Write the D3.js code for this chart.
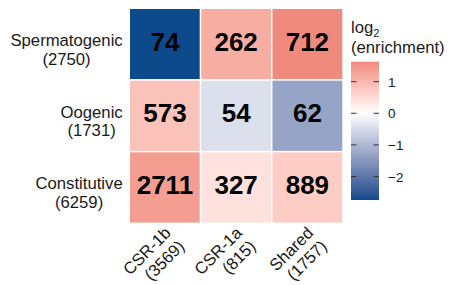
<!DOCTYPE html>
<html>
<head>
<meta charset="utf-8">
<script src="https://cdn.jsdelivr.net/npm/d3@7"></script>
<style>
html,body{margin:0;padding:0;background:#fff;}
text{font-family:"Liberation Sans",Arial,sans-serif;}
</style>
</head>
<body>
<svg id="chart" width="451" height="285"></svg>
<script>
// Data
const rowNames = ["Spermatogenic", "Oogenic", "Constitutive"];
const rowTotals = ["(2750)", "(1731)", "(6259)"];
const colNames = ["CSR-1b", "CSR-1a", "Shared"];
const colTotals = ["(3569)", "(815)", "(1757)"];
const counts = [
  [74, 262, 712],
  [573, 54, 62],
  [2711, 327, 889]
];
const log2Enrichment = [
  [-2.74, 1.15, 1.63],
  [0.85, -0.43, -1.3],
  [1.35, 0.4, 0.7]
];
const legendTicks = [1, 0, -1, -2];

const svg = d3.select("#chart");
const x = d3.scaleBand().domain(colNames).range([129.3, 343]);
const y = d3.scaleBand().domain(rowNames).range([8.3, 223.3]);

const flat = log2Enrichment.flat();
const vmin = d3.min(flat), vmax = d3.max(flat);
const color = d3.scaleLinear()
  .domain([vmin, 0, vmax])
  .range(["#0c4a8b", "#ffffff", "#ef8a7d"])
  .interpolate(d3.interpolateLab);

const cells = [];
rowNames.forEach((r, i) => colNames.forEach((c, j) => {
  cells.push({row: r, col: c, v: log2Enrichment[i][j], n: counts[i][j]});
}));

svg.append("g").selectAll("rect").data(cells).join("rect")
  .attr("x", d => x(d.col))
  .attr("y", d => y(d.row))
  .attr("width", x.bandwidth())
  .attr("height", y.bandwidth())
  .attr("fill", d => color(d.v))
  .attr("stroke", "#ffffff")
  .attr("stroke-width", 1.4);

svg.append("g").selectAll("text").data(cells).join("text")
  .attr("x", d => x(d.col) + x.bandwidth() / 2)
  .attr("y", d => y(d.row) + y.bandwidth() / 2 + 6.5)
  .attr("text-anchor", "middle")
  .attr("font-size", "26px")
  .attr("font-weight", "bold")
  .attr("fill", "#000")
  .text(d => d.n);

// Row labels: block right-aligned, lines centred within block
const rl = svg.append("g").selectAll("text").data(rowNames).join("text")
  .attr("text-anchor", "middle")
  .attr("font-size", "16.7px")
  .attr("fill", "#1a1a1a");
rl.each(function(d, i) {
  const t = d3.select(this);
  const a = t.append("tspan").attr("y", y(d) + y.bandwidth() / 2 + 1.8).text(d);
  const b = t.append("tspan").attr("y", y(d) + y.bandwidth() / 2 + 20.6).text(rowTotals[i]);
  const w = Math.max(a.node().getComputedTextLength(), b.node().getComputedTextLength());
  a.attr("x", 122.7 - w / 2);
  b.attr("x", 122.7 - w / 2);
});

// Column labels (rotated 45, right-aligned)
const cl = svg.append("g").selectAll("g").data(colNames).join("g")
  .attr("transform", d => `translate(${x(d) + x.bandwidth() / 2 + 7},${234}) rotate(-45)`);
cl.append("text")
  .attr("text-anchor", "end")
  .attr("font-size", "16.7px")
  .attr("fill", "#1a1a1a")
  .each(function(d, i) {
    const t = d3.select(this);
    t.append("tspan").attr("x", 0).attr("y", 0).text(d);
    t.append("tspan").attr("x", 0).attr("y", 19).text(colTotals[i]);
  });

// Legend
const lx = 351, lw = 28;
const ly = d3.scaleLinear().domain([vmin, vmax]).range([200, 61.7]);
const defs = svg.append("defs");
const grad = defs.append("linearGradient").attr("id", "lg")
  .attr("x1", 0).attr("y1", 1).attr("x2", 0).attr("y2", 0);
d3.range(0, 1.0001, 0.02).forEach(t => {
  grad.append("stop").attr("offset", t).attr("stop-color", color(vmin + t * (vmax - vmin)));
});
svg.append("rect")
  .attr("x", lx).attr("y", ly(vmax))
  .attr("width", lw).attr("height", ly(vmin) - ly(vmax))
  .attr("fill", "url(#lg)");

const lt = svg.append("g").selectAll("g").data(legendTicks).join("g");
lt.append("line").attr("x1", lx).attr("x2", lx + 5.5)
  .attr("y1", d => ly(d)).attr("y2", d => ly(d))
  .attr("stroke", "#333").attr("stroke-width", 1);
lt.append("line").attr("x1", lx + lw - 5.5).attr("x2", lx + lw)
  .attr("y1", d => ly(d)).attr("y2", d => ly(d))
  .attr("stroke", "#333").attr("stroke-width", 1);
lt.append("text")
  .attr("x", 388).attr("y", d => ly(d) + 5)
  .attr("font-size", "13.5px").attr("fill", "#1a1a1a")
  .text(d => d < 0 ? "\u2212" + Math.abs(d) : String(d));

const title = svg.append("text").attr("x", 351).attr("font-size", "16.7px").attr("fill", "#1a1a1a");
title.append("tspan").attr("x", 351).attr("y", 33).text("log");
title.append("tspan").attr("dy", 4).attr("font-size", "11px").text("2");
title.append("tspan").attr("x", 351).attr("y", 53).text("(enrichment)");
</script>
</body>
</html>
